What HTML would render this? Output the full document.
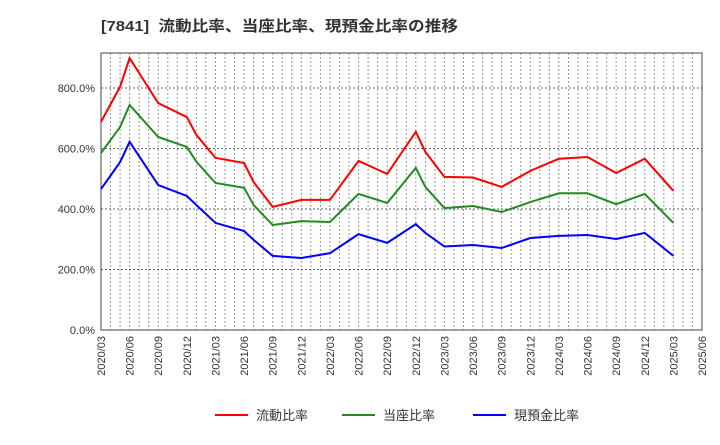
<!DOCTYPE html>
<html><head><meta charset="utf-8"><style>
body{margin:0;background:#fff;font-family:"Liberation Sans","Noto Sans CJK JP",sans-serif}
</style></head><body>
<svg id="c" width="720" height="440" xmlns="http://www.w3.org/2000/svg" font-family="Liberation Sans, Noto Sans CJK JP, sans-serif">
<text x="101" y="31" font-size="15" font-weight="bold" fill="#333" textLength="357" lengthAdjust="spacingAndGlyphs" xml:space="preserve">[7841]  流動比率、当座比率、現預金比率の推移</text>
<g id="grid"></g><g id="axes"></g><g id="series"></g><g id="legend"></g>
</svg>
<script>
const months=[0,2,3,6,9,10,12,15,16,18,21,24,27,30,33,34,36,39,42,45,48,51,54,57,60];
const currentRatio=[688,804,899,750,704,645,569,552,489,407,430,430,559,516,655,589,506,504,473,526,566,572,519,566,460];
const quickRatio=[585,671,744,638,605,556,486,470,413,347,360,357,450,420,536,473,403,410,390,423,452,452,416,450,354];
const cashRatio=[466,555,622,479,443,413,354,327,298,245,238,254,317,288,350,321,276,281,271,304,311,314,301,321,245];
const yTicks=[0,200,400,600,800];
const xTickLabels=["2020/03","2020/06","2020/09","2020/12","2021/03","2021/06","2021/09","2021/12","2022/03","2022/06","2022/09","2022/12","2023/03","2023/06","2023/09","2023/12","2024/03","2024/06","2024/09","2024/12","2025/03","2025/06"];
const seriesNames=["流動比率","当座比率","現預金比率"];
const colors=["#ff0000","#228b22","#0000ff"];
const L=101,R=702,T=53,B=330,NM=63;
const xs=m=>L+(R-L)*m/NM;
const ys=v=>B-(B-88)*v/800;
const NS="http://www.w3.org/2000/svg";
function mk(t,a,p){const e=document.createElementNS(NS,t);for(const k in a)e.setAttribute(k,a[k]);p.appendChild(e);return e;}
const grid=document.getElementById('grid'),axes=document.getElementById('axes'),ser=document.getElementById('series'),leg=document.getElementById('legend');
for(let m=1;m<NM;m++){const l=mk('line',{x1:xs(m),x2:xs(m),y1:T,y2:B,stroke:'#999','stroke-width':1,'stroke-dasharray':'2,2'},grid);

}
yTicks.forEach(v=>{if(v>0){const l=mk('line',{x1:L,x2:R,y1:ys(v),y2:ys(v),stroke:'#666','stroke-width':1,'stroke-dasharray':'2,2'},grid);

}
const t=mk('text',{x:L-6,y:ys(v)+4,'font-size':11,'text-anchor':'end',fill:'#333'},axes);t.textContent=v.toFixed(1)+'%';

});
xTickLabels.forEach((s,i)=>{const x=xs(i*3);const t=mk('text',{x:0,y:0,'font-size':11,'text-anchor':'end',fill:'#333',transform:`translate(${x+4},${B+6}) rotate(-90)`},axes);t.textContent=s;

});
const fr=mk('rect',{x:L,y:T,width:R-L,height:B-T,fill:'none',stroke:'#444','stroke-width':1},axes);


[currentRatio,quickRatio,cashRatio].forEach((d,k)=>{const p=mk('polyline',{points:d.map((v,i)=>xs(months[i])+','+ys(v)).join(' '),fill:'none',stroke:colors[k],'stroke-width':2},ser);


const lx=[215,342,473][k];
const ll=mk('line',{x1:lx,x2:lx+33,y1:415,y2:415,stroke:colors[k],'stroke-width':2},leg);


const lt=mk('text',{x:lx+41,y:420,'font-size':13,fill:'#333'},leg);lt.textContent=seriesNames[k];

});
</script>
</body></html>
